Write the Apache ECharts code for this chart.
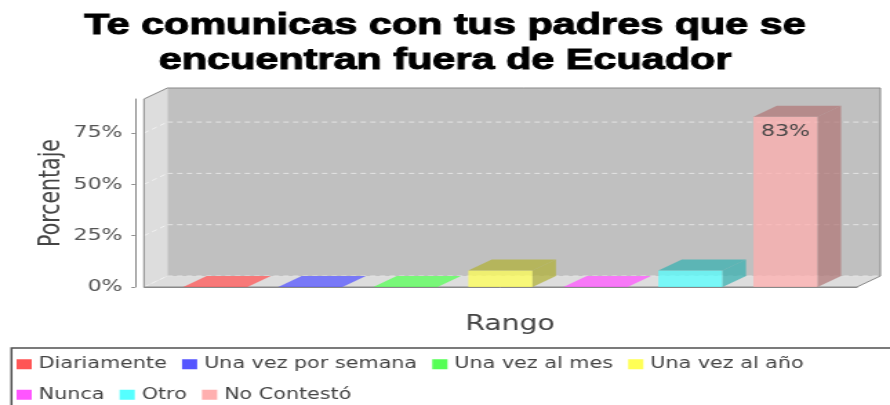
<!DOCTYPE html>
<html>
<head>
<meta charset="utf-8">
<script src="https://cdn.jsdelivr.net/npm/echarts@6/dist/echarts.min.js"></script>
<style>
  html, body { margin: 0; padding: 0; background: #fff; overflow: hidden; }
  #frame { width: 890px; height: 405px; overflow: hidden; }
  /* the chart is laid out on a narrower canvas and widened to the frame */
  #chart { width: 645px; height: 405px; transform: scaleX(1.379845); transform-origin: 0 0; }
</style>
</head>
<body>
<div id="frame"><div id="chart"></div></div>
<script>
// ---- data ----
const categories = [''];
const seriesNames = ['Diariamente', 'Una vez por semana', 'Una vez al mes', 'Una vez al año', 'Nunca', 'Otro', 'No Contestó'];
const seriesValues = [0, 0, 0, 8, 0, 8, 83];
const yTickValues = [0, 25, 50, 75];
const yAxisMax = 91.6;

// ---- style ----
const palette = ['#ff5555', '#5555ff', '#55ff55', '#ffff55', '#ff55ff', '#55ffff', '#ffafaf'];
const DEPTH_X = 17;          // horizontal depth of the 3D box
const DEPTH_Y = 11;          // vertical depth of the 3D box
const BAR_WIDTH_RATIO = 0.09;
const BAR_STEP_RATIO = 0.1333;
const BAR_ALPHA = 0.75;
const FONT = 'DejaVu Sans';

function rgbOf(hex) {
  const n = parseInt(hex.slice(1), 16);
  return [(n >> 16) & 255, (n >> 8) & 255, n & 255];
}
function rgba(rgb, a) { return 'rgba(' + rgb[0] + ',' + rgb[1] + ',' + rgb[2] + ',' + a + ')'; }
function darker(rgb) { return rgb.map(c => Math.floor(c * 0.7)); }

// back wall, left wall, floor, grid lines and outline of the 3D plot box
function renderWalls(params, api) {
  const cs = params.coordSys;
  const L = cs.x, T = cs.y, R = cs.x + cs.width, B = cs.y + cs.height;
  const dx = DEPTH_X, dy = DEPTH_Y;
  const children = [
    { type: 'polygon', shape: { points: [[L, T], [L + dx, T - dy], [L + dx, B - dy], [L, B]] }, style: { fill: '#dddddd' } },
    { type: 'polygon', shape: { points: [[L, B], [L + dx, B - dy], [R + dx, B - dy], [R, B]] }, style: { fill: '#dddddd' } },
    { type: 'rect', shape: { x: L + dx, y: T - dy, width: R - L, height: B - T }, style: { fill: '#c0c0c0' } }
  ];
  yTickValues.forEach(v => {
    const y = api.coord([0, v])[1];
    children.push({ type: 'line', shape: { x1: L + dx, y1: y - dy, x2: R + dx, y2: y - dy },
      style: { stroke: '#e4e4e4', lineWidth: 1, lineDash: [4, 3] } });
    children.push({ type: 'line', shape: { x1: L, y1: y, x2: L + dx, y2: y - dy },
      style: { stroke: '#f2f2f2', lineWidth: 1, lineDash: [4, 3] } });
  });
  children.push({ type: 'polygon',
    shape: { points: [[L, B], [L, T], [L + dx, T - dy], [R + dx, T - dy], [R + dx, B - dy], [R, B]] },
    style: { fill: null, stroke: '#888888', lineWidth: 1 } });
  return { type: 'group', children };
}

// one 3D bar per series, placed side by side inside the single category
function makeBarRenderer(i) {
  const base = rgbOf(palette[i]);
  const shade = darker(base);
  return function (params, api) {
    const v = api.value(1);
    const origin = api.coord([api.value(0), 0]);
    const top = api.coord([api.value(0), v]);
    const band = api.size([1, 0])[0];
    const w = band * BAR_WIDTH_RATIO;
    const cx = origin[0] + (i - (seriesNames.length - 1) / 2) * band * BAR_STEP_RATIO;
    const x0 = cx - w / 2, x1 = cx + w / 2;
    const yb = origin[1], yt = top[1];
    const dx = DEPTH_X, dy = DEPTH_Y;
    const flat = yb - yt < 0.5;
    const children = [];
    if (!flat) {
      children.push({ type: 'rect', shape: { x: x0, y: yt, width: w, height: yb - yt }, style: { fill: rgba(base, BAR_ALPHA) } });
      children.push({ type: 'polygon', shape: { points: [[x1, yb], [x1 + dx, yb - dy], [x1 + dx, yt - dy], [x1, yt]] },
        style: { fill: rgba(shade, BAR_ALPHA) } });
    }
    children.push({ type: 'polygon', shape: { points: [[x0, yt], [x0 + dx, yt - dy], [x1 + dx, yt - dy], [x1, yt]] },
      style: { fill: rgba(flat ? base : shade, BAR_ALPHA) } });
    if (yb - yt > 30) {
      children.push({ type: 'text', style: { text: Math.round(v) + '%', x: cx, y: yt + 7, align: 'center', verticalAlign: 'top',
        fontFamily: FONT, fontSize: 16, fill: '#444444' } });
    }
    return { type: 'group', children };
  };
}

const series = [{
  type: 'custom', name: '__walls', silent: true, z: 1,
  data: [[0, 0]], renderItem: renderWalls
}].concat(seriesNames.map((name, i) => ({
  type: 'custom', name, z: 2,
  itemStyle: { color: palette[i] },
  data: [[0, seriesValues[i]]],
  renderItem: makeBarRenderer(i)
})));

const chart = echarts.init(document.getElementById('chart'), null, { renderer: 'canvas' });
chart.setOption({
  animation: false,
  backgroundColor: '#ffffff',
  title: {
    text: 'Te comunicas con tus padres que se\nencuentran fuera de Ecuador',
    left: 'center', top: 8.5, padding: 0,
    textStyle: { fontFamily: 'Liberation Sans', fontWeight: 'bold', fontSize: 30, lineHeight: 35, color: '#000000',
      textBorderColor: '#000000', textBorderWidth: 1 }
  },
  legend: {
    data: seriesNames,
    left: 12, top: 354.5, padding: 0, width: 620,
    icon: 'rect', itemWidth: 11, itemHeight: 10, itemGap: 11,
    textStyle: { fontFamily: FONT, fontSize: 15, lineHeight: 19.5, color: '#444444' }
  },
  graphic: [{
    type: 'rect', left: 5.8, top: 345.5, silent: true,
    shape: { width: 660, height: 80 },
    style: { fill: null, stroke: '#505050', lineWidth: 1.5 }
  }],
  grid: { left: 104.3, right: 24, top: 99, bottom: 118, containLabel: false },
  xAxis: {
    type: 'category', data: categories, offset: 6,
    axisLine: { lineStyle: { color: '#888888' } },
    axisTick: { alignWithLabel: true, length: 3, lineStyle: { color: '#888888' } },
    axisLabel: { show: false },
    splitLine: { show: false },
    name: 'Rango', nameLocation: 'middle', nameGap: 21, nameMoveOverlap: false,
    nameTextStyle: { fontFamily: FONT, fontSize: 20.5, color: '#444444', padding: [0, 0, 0, 14] }
  },
  yAxis: {
    type: 'value', min: 0, max: yAxisMax, interval: 25, offset: 6.5,
    axisLine: { show: true, lineStyle: { color: '#888888' } },
    axisTick: { show: true, length: 2.5, customValues: yTickValues, lineStyle: { color: '#888888' } },
    axisLabel: { customValues: yTickValues, formatter: '{value}%', margin: 9, fontFamily: FONT, fontSize: 16, color: '#555555' },
    splitLine: { show: false },
    name: 'Porcentaje', nameLocation: 'middle', nameGap: 50, nameMoveOverlap: false,
    nameTextStyle: { fontFamily: FONT, fontSize: 20.5, color: '#444444' }
  },
  series
});
</script>
</body>
</html>
